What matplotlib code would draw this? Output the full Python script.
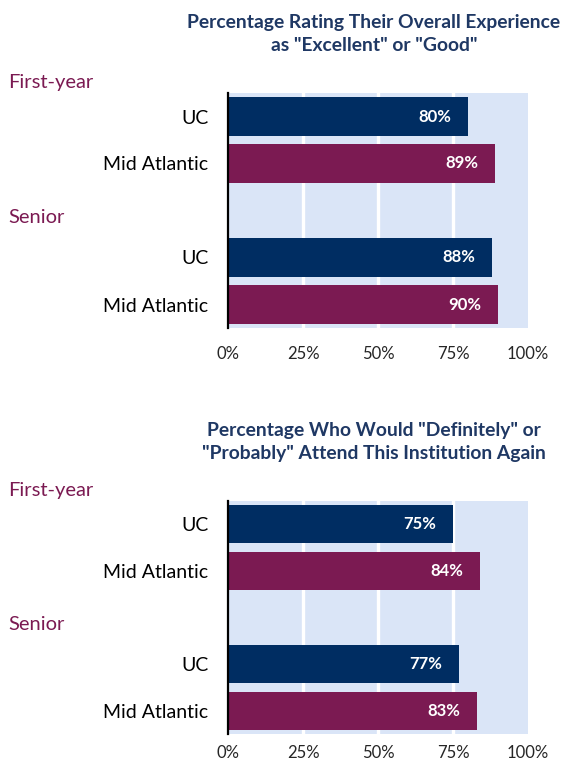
import matplotlib
matplotlib.use("Agg")
import matplotlib.pyplot as plt
from matplotlib.transforms import blended_transform_factory

plt.rcParams['font.family'] = ['Lato', 'DejaVu Sans']

categories = ["UC", "Mid Atlantic", "UC", "Mid Atlantic"]
groups = ["First-year", "Senior"]
titles = ['Percentage Rating Their Overall Experience\nas "Excellent" or "Good"',
          'Percentage Who Would "Definitely" or\n"Probably" Attend This Institution Again']
experience = [80, 89, 88, 90]
attend_again = [75, 84, 77, 83]
xticks = [0, 25, 50, 75, 100]
xticklabels = ["0%", "25%", "50%", "75%", "100%"]

NAVY = "#002D62"
PURPLE = "#7B1A52"
BG = "#DAE5F7"
TITLE = "#1F3864"

fig = plt.figure(figsize=(5.65, 7.65), dpi=100)
W, H = 565, 765

positions = [0, 1, 3, 4]
group_pos = [-0.73, 2.15]
colors = [NAVY, PURPLE, NAVY, PURPLE]

def panel(top_px, bottom_px, values, title, title_y, xpad):
    ax = fig.add_axes([228 / W, 1 - bottom_px / H, 300 / W, (bottom_px - top_px) / H])
    ax.set_facecolor(BG)
    ax.barh(positions, values, height=0.81, color=colors, zorder=3)
    ax.set_xlim(0, 100)
    ax.set_ylim(4.5, -0.5)
    for x in [25, 50, 75]:
        ax.axvline(x, color="white", lw=2.4, zorder=2)
    for s in ["top", "right", "bottom"]:
        ax.spines[s].set_visible(False)
    ax.spines["left"].set_color("black")
    ax.spines["left"].set_linewidth(1.6)
    ax.spines["left"].set_zorder(4)
    ax.set_xticks(xticks)
    ax.set_xticklabels(xticklabels, fontsize=12, color="#262626")
    ax.set_yticks(positions)
    ax.set_yticklabels(categories, fontsize=14, color="black")
    ax.tick_params(axis="x", length=0, pad=xpad)
    ax.tick_params(axis="y", length=0, pad=14)
    for p, v in zip(positions, values):
        ax.text(v - 5.5, p, f"{v}%", ha="right", va="center", color="white",
                fontsize=12, fontweight="bold", zorder=5)
    tr = blended_transform_factory(fig.transFigure, ax.transData)
    for g, gp in zip(groups, group_pos):
        ax.text(8 / W, gp, g, transform=tr, ha="left", va="center", fontsize=14.5,
                color=PURPLE)
    fig.text(374 / W, 1 - title_y / H, title, ha="center", va="center",
             fontsize=13.9, fontweight="bold", color=TITLE, linespacing=1.45)
    return ax

panel(93, 328, experience, titles[0], 34, 13)
panel(501, 734, attend_again, titles[1], 442, 8)

fig.savefig("out.png", dpi=100, facecolor="white")
